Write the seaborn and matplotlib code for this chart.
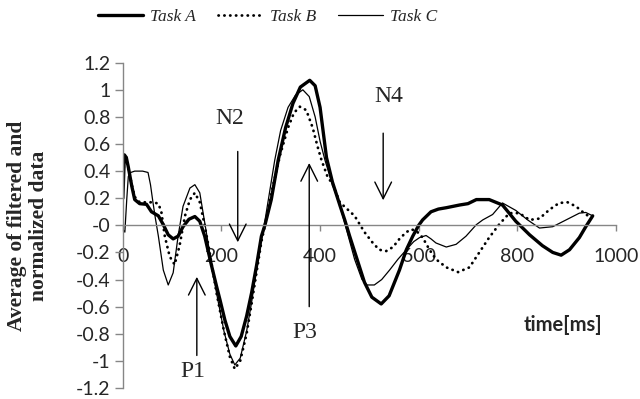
import numpy as np
import pandas as pd
import matplotlib
matplotlib.use("Agg")
import matplotlib.pyplot as plt
import seaborn as sns

# ERP curves (time in ms, averaged filtered/normalized value)
time_a = [0, 3, 7, 11, 18, 24, 34, 48, 58, 72, 82, 92, 102, 112, 122, 134, 146, 156, 166,
          180, 190, 197, 207, 217, 229, 240, 251, 261, 271, 281, 288, 301, 315, 330, 345, 360,
          379, 390, 400, 413, 425, 440, 450, 460, 475, 490, 505, 524, 540, 561, 575, 588, 600,
          608, 625, 640, 656, 683, 700, 717, 743, 770, 797, 825, 851, 872, 889, 906, 926, 939, 953]
task_a = [0.20, 0.52, 0.50, 0.43, 0.29, 0.19, 0.16, 0.155, 0.10, 0.07, 0.005, -0.07, -0.10, -0.08,
          -0.01, 0.045, 0.065, 0.03, -0.08, -0.30, -0.45, -0.55, -0.70, -0.82, -0.89, -0.82, -0.67,
          -0.50, -0.30, -0.08, 0.0, 0.19, 0.48, 0.72, 0.90, 1.02, 1.07, 1.03, 0.87, 0.50, 0.32,
          0.15, 0.04, -0.08, -0.25, -0.42, -0.53, -0.58, -0.52, -0.33, -0.18, -0.08, 0.0, 0.04,
          0.10, 0.12, 0.13, 0.15, 0.16, 0.19, 0.19, 0.15, 0.03, -0.07, -0.15, -0.20, -0.22, -0.18,
          -0.09, -0.01, 0.07]

time_b = [0, 3, 7, 11, 18, 24, 34, 48, 62, 72, 78, 85, 95, 105, 115, 126, 136, 146, 156, 166,
          176, 190, 205, 217, 227, 238, 251, 261, 271, 281, 290, 305, 319, 335, 347, 359, 372,
          385, 395, 403, 415, 426, 440, 455, 470, 490, 507, 520, 534, 548, 561, 575, 585, 595,
          608, 622, 635, 656, 680, 703, 723, 743, 764, 784, 804, 825, 845, 865, 885, 902, 919,
          939, 950]
task_b = [0.30, 0.50, 0.50, 0.42, 0.30, 0.21, 0.17, 0.17, 0.17, 0.16, 0.10, -0.08, -0.23, -0.29,
          -0.15, 0.07, 0.19, 0.24, 0.17, 0.0, -0.20, -0.50, -0.78, -0.97, -1.06, -1.0, -0.80,
          -0.58, -0.35, -0.12, 0.03, 0.30, 0.52, 0.72, 0.83, 0.875, 0.85, 0.72, 0.58, 0.48, 0.36,
          0.30, 0.17, 0.12, 0.07, -0.05, -0.13, -0.18, -0.19, -0.16, -0.10, -0.05, -0.03, -0.04,
          -0.09, -0.18, -0.25, -0.31, -0.345, -0.31, -0.20, -0.09, 0.01, 0.09, 0.09, 0.04, 0.05,
          0.115, 0.165, 0.17, 0.14, 0.08, 0.06]

time_c = [0, 4, 8, 11, 16, 24, 40, 51, 56, 61, 66, 72, 82, 92, 102, 112, 122, 136, 146, 156,
          166, 176, 190, 205, 217, 227, 238, 251, 261, 271, 281, 288, 300, 308, 320, 335, 350,
          365, 378, 390, 400, 410, 425, 440, 455, 470, 485, 495, 510, 525, 541, 558, 575, 590,
          602, 615, 625, 635, 656, 676, 696, 717, 730, 750, 770, 797, 821, 845, 872, 899, 926,
          939, 953]
task_c = [-0.03, -0.05, 0.20, 0.36, 0.39, 0.40, 0.40, 0.39, 0.30, 0.17, 0.05, -0.08, -0.33,
          -0.44, -0.35, -0.08, 0.14, 0.275, 0.30, 0.24, 0.02, -0.20, -0.50, -0.78, -0.95, -1.03,
          -0.98, -0.78, -0.57, -0.33, -0.10, 0.03, 0.30, 0.48, 0.70, 0.87, 0.96, 1.0, 0.95, 0.80,
          0.62, 0.48, 0.30, 0.15, -0.05, -0.25, -0.40, -0.44, -0.44, -0.40, -0.33, -0.25, -0.18,
          -0.12, -0.09, -0.075, -0.10, -0.13, -0.16, -0.14, -0.08, 0.005, 0.04, 0.08, 0.165, 0.11,
          0.04, -0.02, -0.01, 0.04, 0.09, 0.095, 0.07]

# component labels: (name, arrow x, arrow tail y, arrow tip y, text x, text y)
components = [("P1", 150, -0.96, -0.38, 142, -1.08),
              ("N2", 233, 0.545, -0.125, 217, 0.79),
              ("P3", 378, -0.60, 0.46, 369, -0.79),
              ("N4", 528, 0.68, 0.185, 539, 0.95)]

x_ticks = [0, 200, 400, 600, 800, 1000]
y_ticks = np.round(np.arange(-1.2, 1.21, 0.2), 1)

sns.set_style("white")
plt.rcParams["axes.unicode_minus"] = False
plt.rcParams["font.family"] = ["Lato", "DejaVu Sans"]

fig = plt.figure(figsize=(6.4, 3.99), dpi=100)
ax = fig.add_axes([0.192, 0.0276, 0.7703, 0.8153])

gray = "#868686"
styles = {"Task A": dict(linewidth=2.4, linestyle="-"),
          "Task B": dict(linewidth=2.0, linestyle=(0, (0.1, 2.0)), dash_capstyle="round"),
          "Task C": dict(linewidth=0.9, linestyle="-")}
series = {"Task A": (time_a, task_a), "Task B": (time_b, task_b), "Task C": (time_c, task_c)}

for name, (t, v) in series.items():
    df = pd.DataFrame({"time": t, "value": v})
    sns.lineplot(data=df, x="time", y="value", ax=ax, color="black", label=name,
                 sort=False, **styles[name])

ax.set_xlim(0, 1000)
ax.set_ylim(-1.2, 1.2)
ax.set_xticks(x_ticks)
ax.set_yticks(y_ticks)
ax.set_yticklabels([f"{v:g}" for v in y_ticks])
ax.set_xlabel("")
ax.set_ylabel("")

for s in ["top", "right"]:
    ax.spines[s].set_visible(False)
ax.spines["bottom"].set_position(("data", 0))
for s in ["left", "bottom"]:
    ax.spines[s].set_color(gray)
    ax.spines[s].set_linewidth(1.0)
ax.tick_params(axis="y", direction="out", length=6, width=1, color=gray, pad=3, labelsize=14,
               left=True)
ax.tick_params(axis="x", direction="out", length=4, width=1, color=gray, pad=12, labelsize=14,
               bottom=True)

ax.get_legend().remove()

for name, ax_x, tail, tip, tx, ty in components:
    ax.annotate("", xy=(ax_x, tip), xytext=(ax_x, tail),
                arrowprops=dict(arrowstyle="->,head_length=0.6,head_width=0.3",
                                color="black", lw=1.0, mutation_scale=20,
                                shrinkA=0, shrinkB=0))
    ax.text(tx, ty, name, ha="center", va="center", fontsize=17,
            family="Liberation Serif")

handles, labels = ax.get_lines()[:3], list(series.keys())
fig.legend(handles, labels, loc="center", bbox_to_anchor=(0.418, 0.958), ncol=3,
           frameon=False, handlelength=2.6, handletextpad=0.4, columnspacing=1.25,
           prop=dict(family="Liberation Serif", style="italic", size=12.5))

fig.text(0.044, 1 - 225.5 / 399, "Average of filtered and\nnormalized data", rotation=90,
         ha="center", va="center", fontsize=15.5, fontweight="bold",
         family="Liberation Serif", linespacing=1.15)
fig.text(0.88, 1 - 325 / 399, "time[ms]", ha="center", va="center", fontsize=14.5,
         fontweight="bold")

fig.savefig("out.png", dpi=100)
